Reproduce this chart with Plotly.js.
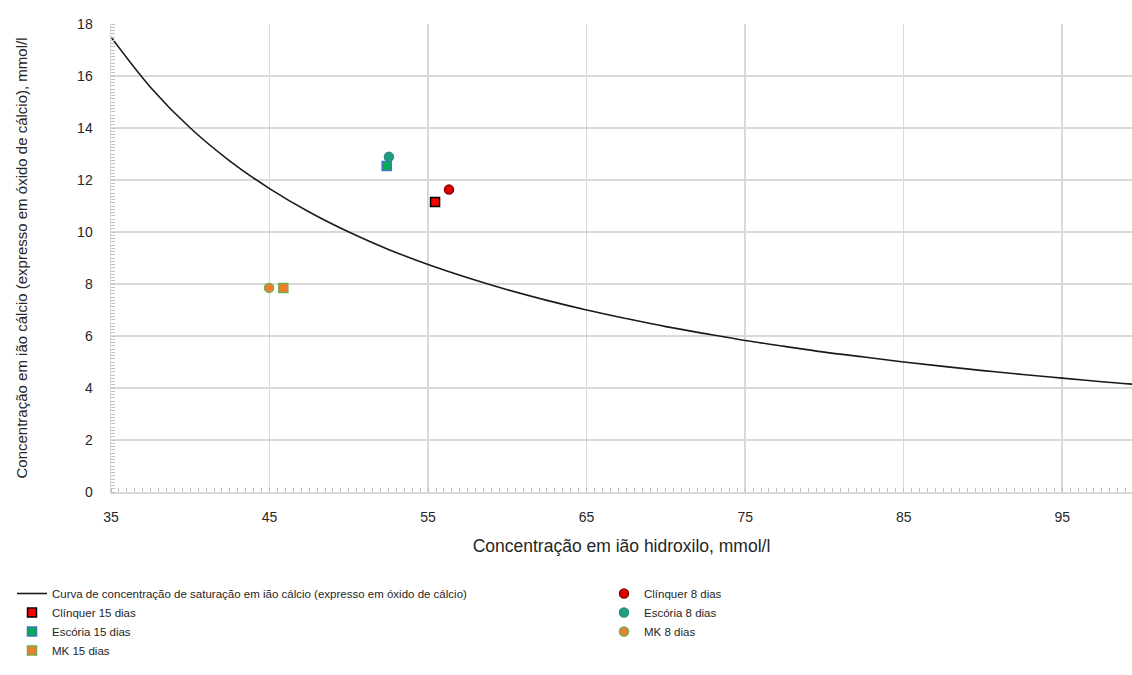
<!DOCTYPE html>
<html>
<head>
<meta charset="utf-8">
<script src="https://cdn.plot.ly/plotly-3.0.1.min.js"></script>
<style>html,body{margin:0;padding:0;background:#fff}#chart{width:1132px;height:675px}</style>
</head>
<body>
<div id="chart"></div>
<script>
// Saturation curve
const curveX = [35, 37.5, 40, 42.5, 45, 47.5, 50, 52.5, 55, 57.5, 60, 62.5, 65, 67.5, 70, 72.5, 75, 77.5, 80, 82.5, 85, 87.5, 90, 92.5, 95, 97.5, 100];
const curveY = [17.5, 15.56, 14.0, 12.73, 11.67, 10.77, 10.0, 9.33, 8.75, 8.24, 7.78, 7.37, 7.0, 6.67, 6.36, 6.09, 5.83, 5.6, 5.38, 5.19, 5.0, 4.83, 4.67, 4.52, 4.38, 4.24, 4.12];
const curveName = "Curva de concentração de saturação em ião cálcio (expresso em óxido de cálcio)";

// Sample points
const seriesNames = ["Clínquer 15 dias", "Escória 15 dias", "MK 15 dias", "Clínquer 8 dias", "Escória 8 dias", "MK 8 dias"];
const seriesX = [55.44, 52.39, 45.87, 56.32, 52.53, 44.97];
const seriesY = [11.15, 12.54, 7.85, 11.63, 12.89, 7.85];

const xTicks = [35, 45, 55, 65, 75, 85, 95];
const yTicks = [0, 2, 4, 6, 8, 10, 12, 14, 16, 18];

const styles = [
  {symbol: "square", fill: "#ff0000", line: "#000000", legend: "legend"},
  {symbol: "square", fill: "#00b050", line: "#4472c4", legend: "legend"},
  {symbol: "square", fill: "#ed7d31", line: "#70ad47", legend: "legend"},
  {symbol: "circle", fill: "#e00000", line: "#8b0000", legend: "legend2"},
  {symbol: "circle", fill: "#1f9e7a", line: "#2e8b8b", legend: "legend2"},
  {symbol: "circle", fill: "#ed7d31", line: "#70ad47", legend: "legend2"}
];

const traces = [{
  x: curveX, y: curveY, type: "scatter", mode: "lines", name: curveName,
  line: {color: "#1a1a1a", width: 1.6, shape: "spline"}, legend: "legend"
}];
seriesNames.forEach((n, i) => {
  const s = styles[i];
  traces.push({
    x: [seriesX[i]], y: [seriesY[i]], type: "scatter", mode: "markers", name: n,
    marker: {symbol: s.symbol, size: 9, color: s.fill, line: {color: s.line, width: 1.5}},
    legend: s.legend
  });
});

const fontFam = "Liberation Sans, Arial, sans-serif";
const L = 111, T = 24, B = 183, W = 1132, H = 675;
const plotW = W - L, plotH = H - T - B;
const legendTopPx = 579;
const legY = -(legendTopPx - (H - B)) / plotH;

const layout = {
  width: W, height: H,
  margin: {l: L, r: 0, t: T, b: B},
  paper_bgcolor: "#ffffff", plot_bgcolor: "#ffffff",
  font: {family: fontFam, size: 12, color: "#262626"},
  showlegend: true,
  xaxis: {
    range: [35, 99.4], tickvals: xTicks, ticktext: xTicks.map(String),
    showgrid: true, gridcolor: "#d9d9d9", gridwidth: 1.5,
    showline: true, linecolor: "#d9d9d9", linewidth: 1.5,
    ticks: "", zeroline: false, ticklabelstandoff: 12,
    tickfont: {size: 14, color: "#262626"},
    minor: {dtick: 0.5, tick0: 35, ticks: "inside", ticklen: 4, tickcolor: "#bfbfbf", showgrid: false},
    title: {text: "Concentração em ião hidroxilo, mmol/l", font: {size: 17.5, color: "#262626"}, standoff: 15}
  },
  yaxis: {
    range: [0, 18], tickvals: yTicks, ticktext: yTicks.map(String),
    showgrid: true, gridcolor: "#d9d9d9", gridwidth: 1.5,
    showline: true, linecolor: "#d9d9d9", linewidth: 1.5,
    ticks: "", zeroline: false, ticklabelstandoff: 14,
    tickfont: {size: 14, color: "#262626"},
    minor: {dtick: 0.125, tick0: 0, ticks: "inside", ticklen: 4, tickcolor: "#bfbfbf", showgrid: false},
    title: {text: "Concentração em ião cálcio (expresso em óxido de cálcio), mmol/l", font: {size: 15, color: "#262626"}, standoff: 46}
  },
  legend: {
    xref: "paper", yref: "paper", x: (12 - L) / plotW, y: legY, xanchor: "left", yanchor: "top",
    orientation: "v", bgcolor: "rgba(0,0,0,0)", font: {family: fontFam, size: 11.5, color: "#262626"},
    tracegroupgap: 0
  },
  legend2: {
    xref: "paper", yref: "paper", x: (604 - L) / plotW, y: legY, xanchor: "left", yanchor: "top",
    orientation: "v", bgcolor: "rgba(0,0,0,0)", font: {family: fontFam, size: 11.5, color: "#262626"},
    tracegroupgap: 0
  }
};

Plotly.newPlot("chart", traces, layout, {displayModeBar: false, staticPlot: true});
</script>
</body>
</html>
